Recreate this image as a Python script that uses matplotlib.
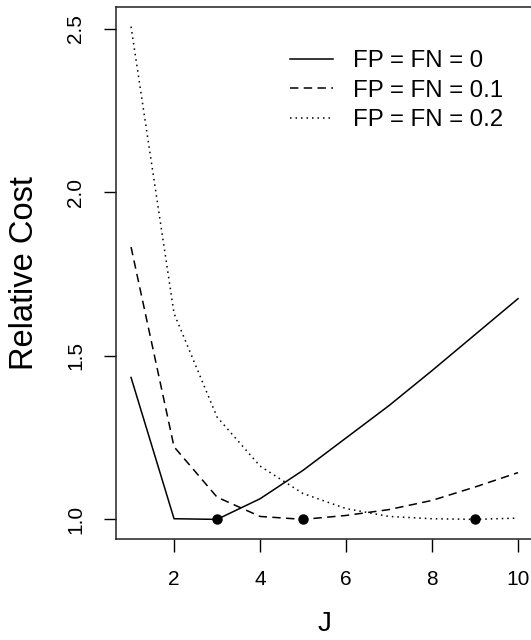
import matplotlib
matplotlib.use("Agg")
import matplotlib.pyplot as plt
import numpy as np

plt.rcParams['font.family'] = ['Liberation Sans', 'DejaVu Sans']

J = [1, 2, 3, 4, 5, 6, 7, 8, 9, 10]
cost_0 = [1.434, 1.002, 1.000, 1.063, 1.150, 1.249, 1.348, 1.455, 1.565, 1.675]
cost_01 = [1.833, 1.222, 1.068, 1.009, 1.000, 1.012, 1.030, 1.058, 1.099, 1.143]
cost_02 = [2.507, 1.630, 1.313, 1.163, 1.079, 1.033, 1.009, 1.002, 1.000, 1.004]
labels = ["FP = FN = 0", "FP = FN = 0.1", "FP = FN = 0.2"]
xticks = [2, 4, 6, 8, 10]
yticks = [1.0, 1.5, 2.0, 2.5]

W, H = 531, 640
fig = plt.figure(figsize=(W / 100, H / 100), dpi=100)
left, right, top, bottom = 116, 533.5, 7, 539
ax = fig.add_axes([left / W, 1 - bottom / H, (right - left) / W, (bottom - top) / H])

styles = [dict(linestyle='-'),
          dict(linestyle=(0, (5.5, 3.5))),
          dict(linestyle=(0, (1.0, 2.6)))]
series = [cost_0, cost_01, cost_02]
handles = []
for s, st, lab in zip(series, styles, labels):
    h, = ax.plot(J, s, color='black', linewidth=1.1, label=lab, **st)
    handles.append(h)
    i = int(np.argmin(s))
    ax.plot([J[i]], [s[i]], 'o', color='black', markersize=6.5, zorder=5)

ax.set_xlim(0.65, 10.36)
ax.set_ylim(0.94, 2.567)
ax.set_xticks(xticks)
ax.set_xticklabels([str(t) for t in xticks])
ax.set_yticks(yticks)
ax.set_yticklabels([f"{t:.1f}" for t in yticks], rotation=90, va='center')
ax.tick_params(axis='both', direction='out', length=9, width=1, labelsize=15, color='black')
ax.tick_params(axis='x', pad=13)
ax.tick_params(axis='y', pad=13)
for sp in ax.spines.values():
    sp.set_linewidth(1.1)
    sp.set_color('#222222')

ax.set_xlabel("J", fontsize=20, labelpad=16)
ax.set_ylabel("Relative Cost", fontsize=23.5, labelpad=19)

leg = ax.legend(handles=handles, labels=labels, loc='upper left',
                bbox_to_anchor=(290 / W, 1 - 50 / H), bbox_transform=fig.transFigure,
                frameon=False, fontsize=17.3, handlelength=1.79, handletextpad=0.83,
                labelspacing=0.32, borderaxespad=0, borderpad=0)

fig.savefig("out.png", dpi=100)
